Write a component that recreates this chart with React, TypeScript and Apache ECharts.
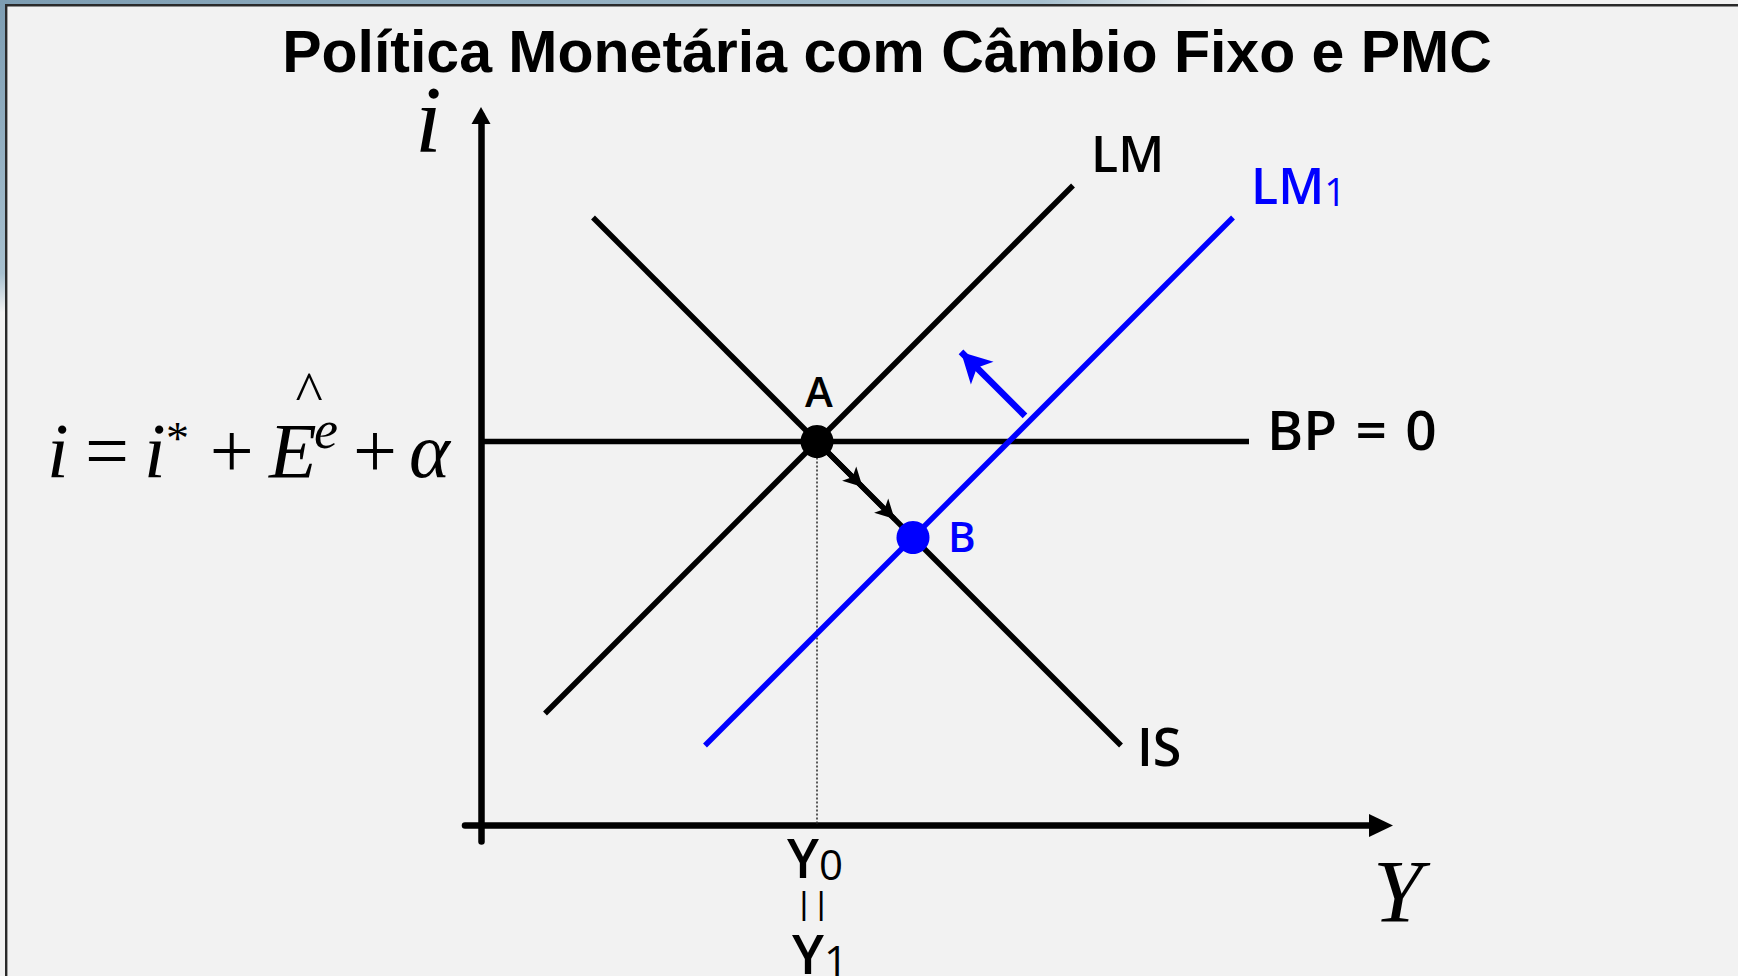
import React, { useEffect, useRef } from "react";
import * as echarts from "echarts";

// ---- axis ranges (model units) ----
const X_MIN = -0.2;
const X_MAX = 11.25;
const Y_MIN = -0.2;
const Y_MAX = 8.875;

// ---- curves (model units) ----
const BP_LINE = [[0, 4.8], [9.6, 4.8]];
const LM_LINE = [[0.8, 1.4], [7.4, 8.0]];
const IS_LINE = [[1.4, 7.6], [8.0, 1.0]];
const LM1_LINE = [[2.8, 1.0], [9.4, 7.6]];
const POINT_A = [4.2, 4.8];
const POINT_B = [5.4, 3.6];
const DROP_LINE = [[4.2, 4.8], [4.2, 0]];
const SHIFT_ARROW = [[6.8, 5.12], [6.0, 5.92]];
const PATH_ARROWS = [
  [[4.2, 4.8], [4.77, 4.23]],
  [[4.2, 4.8], [5.17, 3.83]],
];

// ---- texts ----
const TITLE = "Política Monetária com Câmbio Fixo e PMC";
const LABEL_LM = "LM";
const LABEL_LM1 = ["LM", "1"];
const LABEL_BP = "BP\u2004=\u20040";
const LABEL_IS = "IS";
const LABEL_A = "A";
const LABEL_B = "B";
const LABEL_Y0 = ["Y", "0"];
const LABEL_Y1 = ["Y", "1"];
const AXIS_Y_NAME = "i";
const AXIS_X_NAME = "Y";

const SERIF = "'Liberation Serif', 'Times New Roman', serif";
const SANS = "'Open Sans', 'Noto Sans', sans-serif";
const ARIAL = "'Liberation Sans', Arial, sans-serif";
const BLUE = "#0000ff";

function txt(
  text: string,
  x: number,
  y: number,
  size: number,
  o: { family?: string; weight?: any; italic?: boolean; fill?: string; align?: string } = {}
) {
  const align = o.align || "left";
  return {
    type: "text",
    x,
    y,
    silent: true,
    z: 20,
    style: {
      text,
      fontSize: size,
      fontFamily: o.family || SANS,
      fontWeight: o.weight || "normal",
      fontStyle: o.italic ? "italic" : "normal",
      fill: o.fill || "#000",
      align,
      textAlign: align,
      verticalAlign: "middle",
      textVerticalAlign: "middle",
    },
  };
}

// main glyph + smaller index on a shared baseline, as one rich text
function indexed(parts: string[], x: number, y: number, big: number, small: number, fill = "#000") {
  return {
    type: "text",
    x,
    y,
    silent: true,
    z: 20,
    style: {
      text: `{m|${parts[0]}}{s|${parts[1]}}`,
      fontFamily: SANS,
      fill,
      align: "left",
      textAlign: "left",
      verticalAlign: "middle",
      textVerticalAlign: "middle",
      rich: {
        m: { fontSize: big, fontWeight: 600, fontFamily: SANS, fill, lineHeight: big, verticalAlign: "bottom" },
        s: { fontSize: small, fontWeight: 400, fontFamily: SANS, fill, lineHeight: small, verticalAlign: "bottom" },
      },
    },
  };
}

function buildOption() {
  const lineSeries = (name: string, data: number[][], color: string, width: number, extra: any = {}) => ({
    type: "line",
    name,
    data,
    symbol: "none",
    silent: true,
    z: 3,
    lineStyle: { color, width, cap: "butt" },
    ...extra,
  });

  const graphic: any[] = [
    // textured frame strips
    {
      type: "rect",
      silent: true,
      z: -10,
      shape: { x: 0, y: 0, width: 1738, height: 5 },
      style: {
        fill: new echarts.graphic.LinearGradient(0, 0, 1, 0, [
          { offset: 0, color: "#7d9db2" },
          { offset: 0.6, color: "#a7c0cf" },
          { offset: 0.7, color: "#f2f2f2" },
          { offset: 1, color: "#f2f2f2" },
        ]),
      },
    },
    {
      type: "rect",
      silent: true,
      z: -10,
      shape: { x: 0, y: 0, width: 5, height: 976 },
      style: {
        fill: new echarts.graphic.LinearGradient(0, 0, 0, 1, [
          { offset: 0, color: "#7d9db2" },
          { offset: 0.28, color: "#a7c0cf" },
          { offset: 0.32, color: "#f2f2f2" },
          { offset: 1, color: "#f2f2f2" },
        ]),
      },
    },
    { type: "line", silent: true, z: -5, shape: { x1: 5, y1: 5.3, x2: 1738, y2: 5.3 }, style: { stroke: "#2a2a2a", lineWidth: 2.4 } },
    { type: "line", silent: true, z: -5, shape: { x1: 6.2, y1: 4.1, x2: 6.2, y2: 976 }, style: { stroke: "#2a2a2a", lineWidth: 2.4 } },

    // title
    txt(TITLE, 887, 52, 59, { family: ARIAL, weight: "bold", align: "center" }),

    // axis names
    txt(AXIS_Y_NAME, 415, 119.6, 96, { family: SERIF, italic: true }),
    txt(AXIS_X_NAME, 1373, 891, 89, { family: SERIF, italic: true }),

    // formula  i = i* + E^e + alpha
    txt("i", 47, 450.7, 78, { family: SERIF, italic: true }),
    txt("=", 85, 450.7, 78, { family: SERIF }),
    txt("i", 144, 450.7, 78, { family: SERIF, italic: true }),
    txt("*", 166, 438.5, 46, { family: SERIF }),
    txt("+", 209.7, 450.7, 78, { family: SERIF }),
    txt("E", 269, 450.7, 78, { family: SERIF, italic: true }),
    txt("e", 314, 429.8, 54, { family: SERIF, italic: true }),
    txt("+", 353, 450.7, 78, { family: SERIF }),
    txt("α", 409, 450.7, 78, { family: SERIF, italic: true }),
    txt("^", 309, 391.8, 58, { family: SERIF, align: "center" }),

    // curve labels
    txt(LABEL_LM, 1091, 153.2, 50, { weight: 600 }),
    indexed(LABEL_LM1, 1251, 184.6, 50, 38, BLUE),
    txt(LABEL_BP, 1267, 428, 55, { weight: 600 }),
    txt(LABEL_IS, 1137, 745.8, 52, { weight: 600 }),
    txt(LABEL_A, 819, 390.7, 42, { weight: 600, align: "center" }),
    txt(LABEL_B, 948, 535.7, 42, { weight: 600, fill: BLUE }),

    // Y0 || Y1
    indexed(LABEL_Y0, 787, 857, 54, 42),
    txt("| |", 812.5, 903, 32, { family: ARIAL, align: "center" }),
    indexed(LABEL_Y1, 792, 953, 54, 42),
  ];

  return {
    animation: false,
    backgroundColor: "#f2f2f2",
    grid: { left: 465, right: 357, top: 115.5, bottom: 134.5, containLabel: false, outerBoundsMode: "none" },
    xAxis: {
      type: "value",
      min: X_MIN,
      max: X_MAX,
      axisLine: {
        show: true,
        onZero: true,
        symbol: ["none", "triangle"],
        symbolSize: [23, 24],
        lineStyle: { color: "#000", width: 6.5 },
      },
      axisTick: { show: false },
      axisLabel: { show: false },
      splitLine: { show: false },
    },
    yAxis: {
      type: "value",
      min: Y_MIN,
      max: Y_MAX,
      axisLine: {
        show: true,
        onZero: true,
        symbol: ["none", "triangle"],
        symbolSize: [19, 17],
        lineStyle: { color: "#000", width: 6.5 },
      },
      axisTick: { show: false },
      axisLabel: { show: false },
      splitLine: { show: false },
    },
    graphic,
    series: [
      lineSeries("drop", DROP_LINE, "#333", 1.6, { lineStyle: { color: "#333", width: 1.6, type: [2, 2] }, z: 2 }),
      lineSeries("BP", BP_LINE, "#000", 5.5),
      lineSeries("LM", LM_LINE, "#000", 5.5),
      lineSeries("IS", IS_LINE, "#000", 5.5, {
        markLine: {
          silent: true,
          animation: false,
          symbol: ["none", "arrow"],
          symbolSize: [15, 19],
          label: { show: false },
          emphasis: { disabled: true },
          lineStyle: { color: "#000", width: 5, type: "solid" },
          data: PATH_ARROWS.map(([a, b]) => [{ coord: a }, { coord: b }]),
        },
      }),
      lineSeries("LM1", LM1_LINE, BLUE, 5.5, {
        markLine: {
          silent: true,
          animation: false,
          symbol: ["none", "arrow"],
          symbolSize: [24, 30],
          label: { show: false },
          emphasis: { disabled: true },
          lineStyle: { color: BLUE, width: 6.5, type: "solid" },
          data: [[{ coord: SHIFT_ARROW[0] }, { coord: SHIFT_ARROW[1] }]],
        },
      }),
      { type: "scatter", name: "A", data: [POINT_A], symbolSize: 33, silent: true, z: 6, itemStyle: { color: "#000", opacity: 1 } },
      { type: "scatter", name: "B", data: [POINT_B], symbolSize: 33, silent: true, z: 6, itemStyle: { color: BLUE, opacity: 1 } },
    ],
  };
}

export default function App() {
  const ref = useRef<HTMLDivElement>(null);
  useEffect(() => {
    document.body.style.margin = "0";
    const chart = echarts.init(ref.current!, undefined, { renderer: "svg" });
    chart.setOption(buildOption() as any);
    return () => chart.dispose();
  }, []);
  return (
    <div
      ref={ref}
      style={{ position: "absolute", left: 0, top: 0, width: 1738, height: 976, background: "#f2f2f2" }}
    />
  );
}
